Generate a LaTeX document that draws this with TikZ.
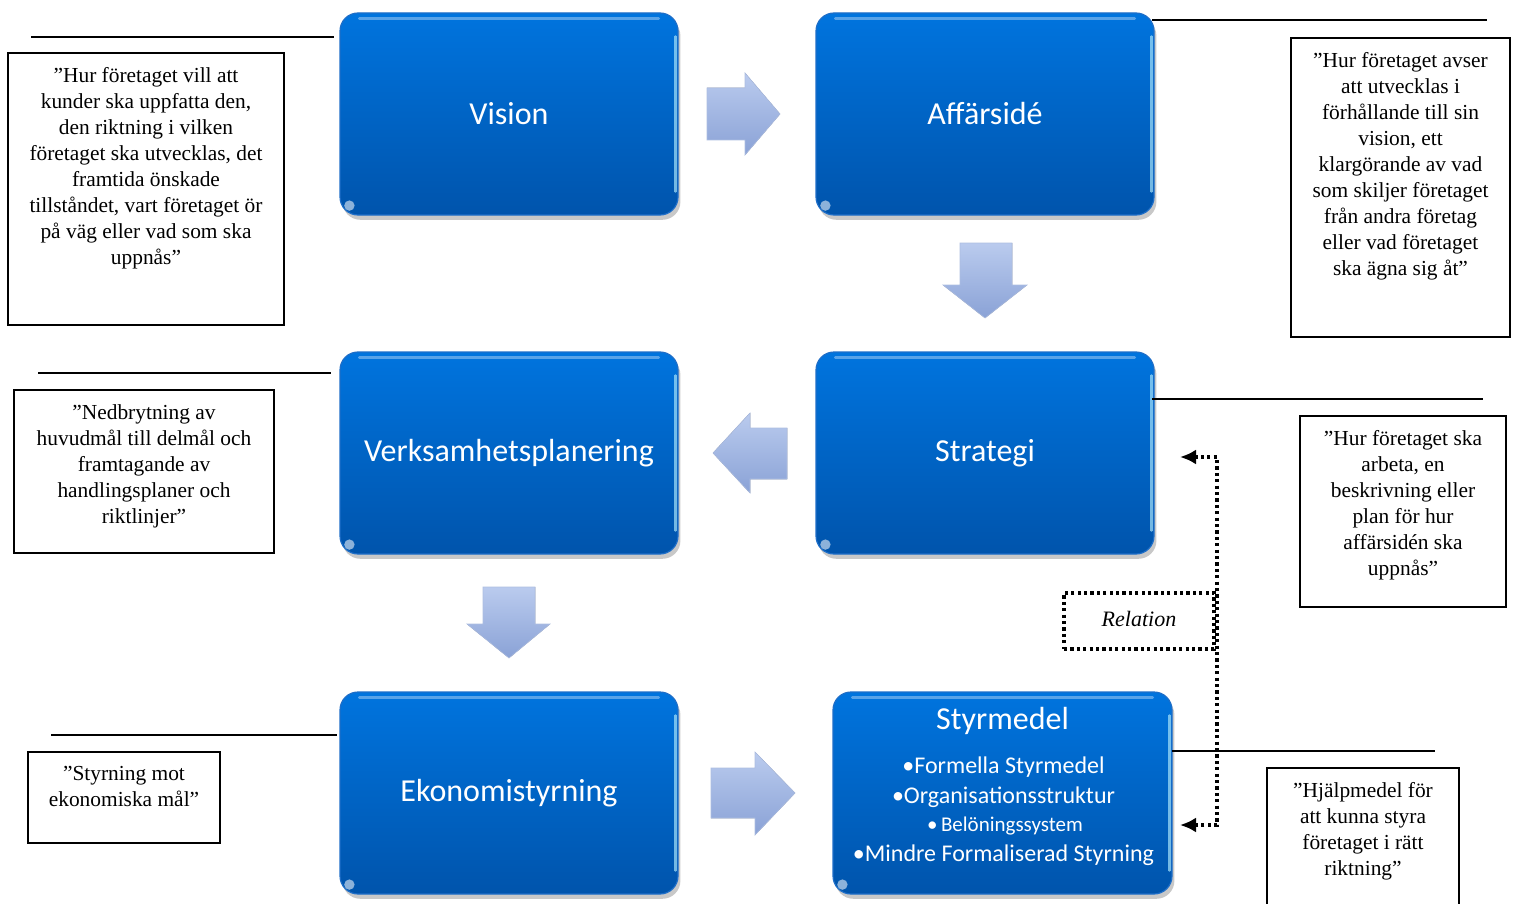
\documentclass[tikz,border=0pt]{standalone}
\usepackage{fontspec}
\setmainfont{Liberation Serif}
\newfontfamily\calibri{Carlito}
\usetikzlibrary{arrows.meta,shadows}

\definecolor{boxtop}{RGB}{0,116,222}
\definecolor{boxbot}{RGB}{0,84,172}
\definecolor{boxrim}{RGB}{30,110,200}
\definecolor{arrtop}{RGB}{186,203,238}
\definecolor{arrbot}{RGB}{138,162,214}

% thin gloss accents on a blue step box
\newcommand\glossy[1]{%
  \draw[white, opacity=0.35, line width=1.4pt, line cap=round]
    ([xshift=10pt,yshift=-3pt]#1.north west) -- ([xshift=-10pt,yshift=-3pt]#1.north east);
  \draw[cyan!35, opacity=0.7, line width=1.1pt, line cap=round]
    ([xshift=-1.6pt,yshift=-12pt]#1.north east) -- ([xshift=-1.6pt,yshift=12pt]#1.south east);
  \fill[white, opacity=0.55] ([xshift=5pt,yshift=5pt]#1.south west) circle (2.6pt);
}

\begin{document}
\begin{tikzpicture}[x=0.5pt,y=-0.5pt,
  bluebox/.style={rounded corners=9pt, minimum width=169pt, minimum height=101pt,
    top color=boxtop, bottom color=boxbot, draw=boxrim, line width=0.6pt,
    text=white, font=\calibri\fontsize{16}{19}\selectfont, inner sep=0pt,
    drop shadow={shadow xshift=1.2pt, shadow yshift=-2.4pt, opacity=0.3, fill=black!70}},
  blockarrow/.style={top color=arrtop, bottom color=arrbot, draw=arrbot!70!white, line width=0.3pt},
  frame/.style={draw=black, line width=0.8pt, inner sep=0pt},
  quote/.style={align=center, inner sep=0pt, font=\fontsize{10.7}{13}\selectfont},
  leader/.style={draw=black, line width=0.9pt},
  relline/.style={line width=1.7pt, dash pattern=on 1.6pt off 1.6pt},
  item/.style={text=white, inner sep=0pt}]

\clip (0,0) rectangle (1516,904);
\fill[white] (0,0) rectangle (1516,904);

% ---- step boxes ----
\node[bluebox] (vision) at (509,114) {Vision};
\node[bluebox] (affar)  at (985,114) {Affärsidé};
\node[bluebox] (verks)  at (509,453) {Verksamhetsplanering};
\node[bluebox] (strat)  at (985,453) {Strategi};
\node[bluebox] (ekon)   at (509,793) {Ekonomistyrning};
\node[bluebox, minimum width=169.5pt] (styr) at (1002.5,793) {};
\foreach \b in {vision,affar,verks,strat,ekon,styr}{\glossy{\b}}

\node[item, font=\calibri\fontsize{16}{19}\selectfont] at (1002.5,721) {Styrmedel};
\node[item, font=\calibri\fontsize{12}{14}\selectfont] at (1003.5,767) {•Formella Styrmedel};
\node[item, font=\calibri\fontsize{12}{14}\selectfont] at (1003.5,797) {•Organisationsstruktur};
\node[item, font=\calibri\fontsize{10.5}{12}\selectfont] at (1005,826) {•\,Belöningssystem};
\node[item, font=\calibri\fontsize{12}{14}\selectfont] at (1003.5,855) {•Mindre Formaliserad Styrning};

% ---- block arrows between the steps ----
\fill[blockarrow] (707,88) -- (745,88) -- (745,73) -- (780,114) -- (745,155) -- (745,140) -- (707,140) -- cycle;
\fill[blockarrow] (960,243) -- (1012,243) -- (1012,285) -- (1027,285) -- (985,318) -- (943,285) -- (960,285) -- cycle;
\fill[blockarrow] (787,428) -- (750,428) -- (750,413) -- (713,453) -- (750,493) -- (750,479) -- (787,479) -- cycle;
\fill[blockarrow] (483,587) -- (535,587) -- (535,624) -- (550,624) -- (509,658) -- (467,624) -- (483,624) -- cycle;
\fill[blockarrow] (711,768) -- (755,768) -- (755,752) -- (795,793) -- (755,835) -- (755,818) -- (711,818) -- cycle;

% ---- description frames ----
\node[frame, minimum width=138pt, minimum height=136pt] (q1) at (146,189) {};
\node[frame, minimum width=109.5pt, minimum height=149.5pt] (q2) at (1400.5,187.5) {};
\node[frame, minimum width=130pt, minimum height=81.5pt] (q3) at (144,471.5) {};
\node[frame, minimum width=103pt, minimum height=95.5pt] (q4) at (1403,511.5) {};
\node[frame, minimum width=96pt, minimum height=45.5pt] (q5) at (124,797.5) {};
\node[frame, minimum width=96pt, minimum height=76pt] (q6) at (1363,844) {};

\node[quote, anchor=north] at ([yshift=-7.3pt]q1.north)
  {”Hur företaget vill att\\kunder ska uppfatta den,\\den riktning i vilken\\företaget ska utvecklas, det\\framtida önskade\\tillståndet, vart företaget ör\\på väg eller vad som ska\\uppnås”};
\node[quote, anchor=north] at ([yshift=-7.3pt]q2.north)
  {”Hur företaget avser\\att utvecklas i\\förhållande till sin\\vision, ett\\klargörande av vad\\som skiljer företaget\\från andra företag\\eller vad företaget\\ska ägna sig åt”};
\node[quote, anchor=north] at ([yshift=-7.3pt]q3.north)
  {”Nedbrytning av\\huvudmål till delmål och\\framtagande av\\handlingsplaner och\\riktlinjer”};
\node[quote, anchor=north] at ([yshift=-7.3pt]q4.north)
  {”Hur företaget ska\\arbeta, en\\beskrivning eller\\plan för hur\\affärsidén ska\\uppnås”};
\node[quote, anchor=north] at ([yshift=-7.3pt]q5.north)
  {”Styrning mot\\ekonomiska mål”};
\node[quote, anchor=north] at ([yshift=-7.3pt]q6.north)
  {”Hjälpmedel för\\att kunna styra\\företaget i rätt\\riktning”};

% ---- leader lines above the frames ----
\draw[leader] (31,37) -- (334,37);
\draw[leader] (1152,20) -- (1487,20);
\draw[leader] (38,373) -- (331,373);
\draw[leader] (1152,399) -- (1483,399);
\draw[leader] (51,735) -- (337,735);
\draw[leader] (1172,751) -- (1435,751);

% ---- relation between strategy and control instruments ----
\node[draw, relline, minimum width=75pt, minimum height=28pt, inner sep=0pt,
  font=\itshape\fontsize{11}{13}\selectfont] (rel) at (1139,621) {\raisebox{2pt}{Relation}};
\coordinate (r1) at (1180,457);
\coordinate (r2) at (1180,825);
\draw[relline, {Latex[length=8pt,width=7.5pt]}-{Latex[length=8pt,width=7.5pt]}]
  (r1) -- (1217,457) -- (1217,825) -- (r2);

\end{tikzpicture}
\end{document}
